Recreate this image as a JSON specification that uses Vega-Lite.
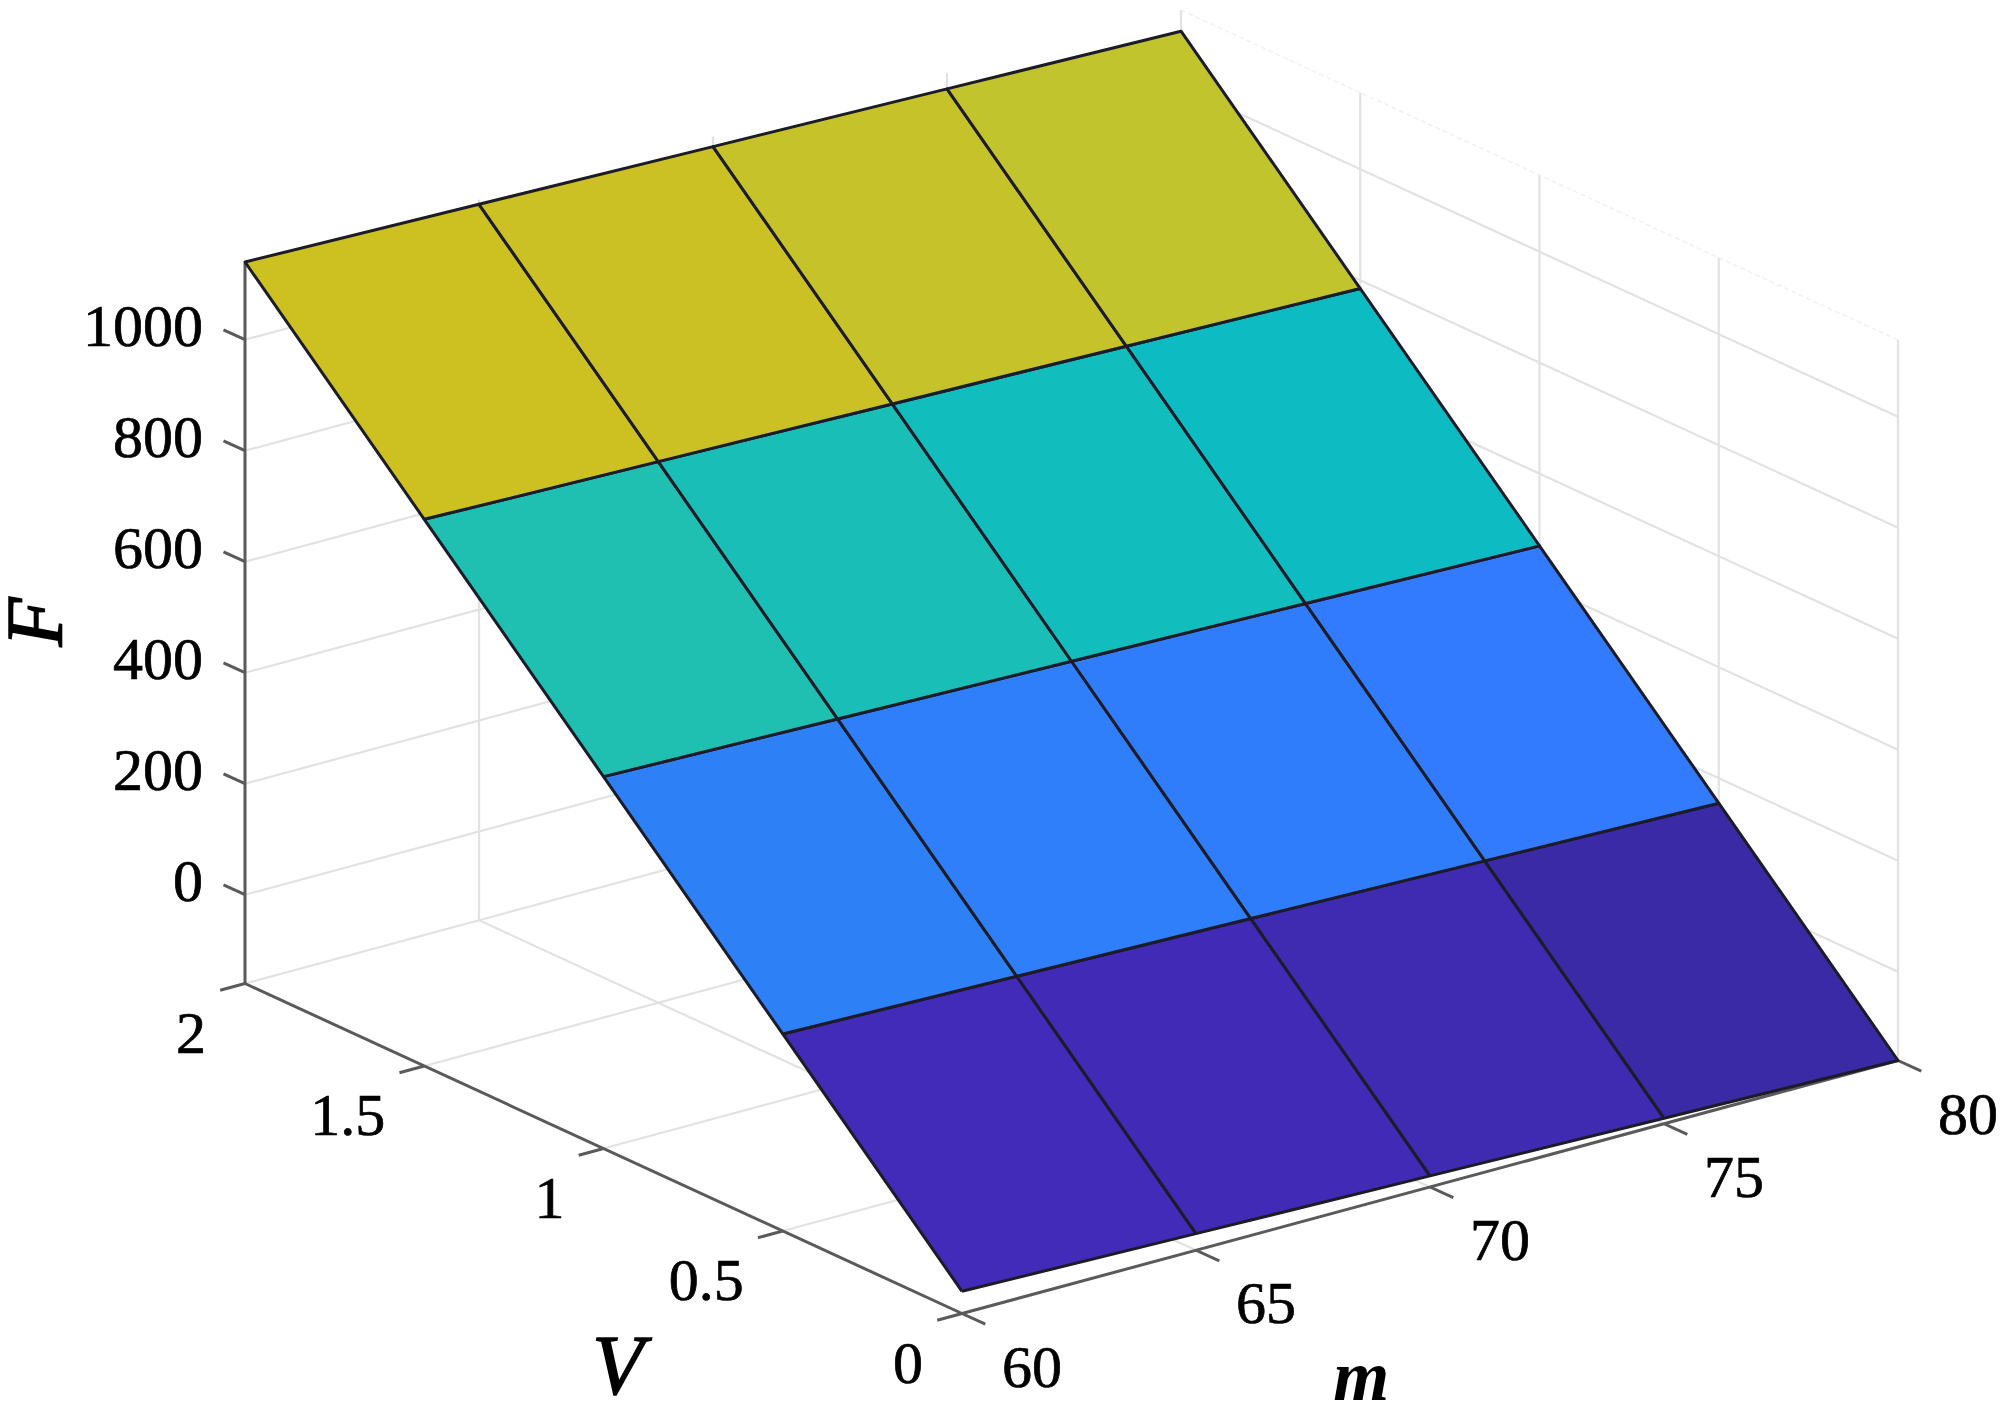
{"$schema":"https://vega.github.io/schema/vega-lite/v6.json","width":2000,"height":1419,"padding":0,"autosize":"none","background":"white","config":{"view":{"stroke":null}},
"datasets":{
"grid":[
{"id":"bw0","m":[60,80],"V":[2,2],"F":[0,0]},{"id":"bw200","m":[60,80],"V":[2,2],"F":[200,200]},{"id":"bw400","m":[60,80],"V":[2,2],"F":[400,400]},{"id":"bw600","m":[60,80],"V":[2,2],"F":[600,600]},{"id":"bw800","m":[60,80],"V":[2,2],"F":[800,800]},{"id":"bw1000","m":[60,80],"V":[2,2],"F":[1000,1000]},
{"id":"rw0","m":[80,80],"V":[2,0],"F":[0,0]},{"id":"rw200","m":[80,80],"V":[2,0],"F":[200,200]},{"id":"rw400","m":[80,80],"V":[2,0],"F":[400,400]},{"id":"rw600","m":[80,80],"V":[2,0],"F":[600,600]},{"id":"rw800","m":[80,80],"V":[2,0],"F":[800,800]},{"id":"rw1000","m":[80,80],"V":[2,0],"F":[1000,1000]},
{"id":"bv65","m":[65,65],"V":[2,2],"F":[-160,1138]},{"id":"bv70","m":[70,70],"V":[2,2],"F":[-160,1138]},{"id":"bv75","m":[75,75],"V":[2,2],"F":[-160,1138]},{"id":"bv80","m":[80,80],"V":[2,2],"F":[-160,1138]},
{"id":"rv15","m":[80,80],"V":[1.5,1.5],"F":[-160,1138]},{"id":"rv10","m":[80,80],"V":[1,1],"F":[-160,1138]},{"id":"rv05","m":[80,80],"V":[0.5,0.5],"F":[-160,1138]},{"id":"rv00","m":[80,80],"V":[0,0],"F":[-160,1138]},
{"id":"fm65","m":[65,65],"V":[2,0],"F":[-160,-160]},{"id":"fm70","m":[70,70],"V":[2,0],"F":[-160,-160]},{"id":"fm75","m":[75,75],"V":[2,0],"F":[-160,-160]},{"id":"fm80","m":[80,80],"V":[2,0],"F":[-160,-160]},
{"id":"fv20","m":[60,80],"V":[2,2],"F":[-160,-160]},{"id":"fv15","m":[60,80],"V":[1.5,1.5],"F":[-160,-160]},{"id":"fv10","m":[60,80],"V":[1,1],"F":[-160,-160]},{"id":"fv05","m":[60,80],"V":[0.5,0.5],"F":[-160,-160]}
],
"faint":[{"id":"top","m":[80,80],"V":[2,0],"F":[1138,1138]}],
"axes":[
{"id":"Faxis","m":[60,60],"V":[2,2],"F":[-160,1138]},{"id":"Vaxis","m":[60,60],"V":[2,0],"F":[-160,-160]},{"id":"maxis","m":[60,80],"V":[0,0],"F":[-160,-160]},
{"id":"tF0","m":[60,60],"V":[2,2.06],"F":[0,0]},{"id":"tF200","m":[60,60],"V":[2,2.06],"F":[200,200]},{"id":"tF400","m":[60,60],"V":[2,2.06],"F":[400,400]},{"id":"tF600","m":[60,60],"V":[2,2.06],"F":[600,600]},{"id":"tF800","m":[60,60],"V":[2,2.06],"F":[800,800]},{"id":"tF1000","m":[60,60],"V":[2,2.06],"F":[1000,1000]},
{"id":"tV2","m":[60,59.47],"V":[2,2],"F":[-160,-160]},{"id":"tV15","m":[60,59.47],"V":[1.5,1.5],"F":[-160,-160]},{"id":"tV1","m":[60,59.47],"V":[1,1],"F":[-160,-160]},{"id":"tV05","m":[60,59.47],"V":[0.5,0.5],"F":[-160,-160]},{"id":"tV0","m":[60,59.47],"V":[0,0],"F":[-160,-160]},
{"id":"tm60","m":[60,60],"V":[0,-0.065],"F":[-160,-160]},{"id":"tm65","m":[65,65],"V":[0,-0.065],"F":[-160,-160]},{"id":"tm70","m":[70,70],"V":[0,-0.065],"F":[-160,-160]},{"id":"tm75","m":[75,75],"V":[0,-0.065],"F":[-160,-160]},{"id":"tm80","m":[80,80],"V":[0,-0.065],"F":[-160,-160]}
],
"cells":[
{"cell":"a1","i":[0,1,2,3,4],"m":[60,65,65,60,60],"V":[0,0,0.5,0.5,0],"F":[-120,-130,185,195,-120]},
{"cell":"a2","i":[0,1,2,3,4],"m":[65,70,70,65,65],"V":[0,0,0.5,0.5,0],"F":[-130,-140,175,185,-130]},
{"cell":"a3","i":[0,1,2,3,4],"m":[70,75,75,70,70],"V":[0,0,0.5,0.5,0],"F":[-140,-150,165,175,-140]},
{"cell":"a4","i":[0,1,2,3,4],"m":[75,80,80,75,75],"V":[0,0,0.5,0.5,0],"F":[-150,-160,155,165,-150]},
{"cell":"b1","i":[0,1,2,3,4],"m":[60,65,65,60,60],"V":[0.5,0.5,1,1,0.5],"F":[195,185,500,510,195]},
{"cell":"b2","i":[0,1,2,3,4],"m":[65,70,70,65,65],"V":[0.5,0.5,1,1,0.5],"F":[185,175,490,500,185]},
{"cell":"b3","i":[0,1,2,3,4],"m":[70,75,75,70,70],"V":[0.5,0.5,1,1,0.5],"F":[175,165,480,490,175]},
{"cell":"b4","i":[0,1,2,3,4],"m":[75,80,80,75,75],"V":[0.5,0.5,1,1,0.5],"F":[165,155,470,480,165]},
{"cell":"c1","i":[0,1,2,3,4],"m":[60,65,65,60,60],"V":[1,1,1.5,1.5,1],"F":[510,500,815,825,510]},
{"cell":"c2","i":[0,1,2,3,4],"m":[65,70,70,65,65],"V":[1,1,1.5,1.5,1],"F":[500,490,805,815,500]},
{"cell":"c3","i":[0,1,2,3,4],"m":[70,75,75,70,70],"V":[1,1,1.5,1.5,1],"F":[490,480,795,805,490]},
{"cell":"c4","i":[0,1,2,3,4],"m":[75,80,80,75,75],"V":[1,1,1.5,1.5,1],"F":[480,470,785,795,480]},
{"cell":"d1","i":[0,1,2,3,4],"m":[60,65,65,60,60],"V":[1.5,1.5,2,2,1.5],"F":[825,815,1130,1140,825]},
{"cell":"d2","i":[0,1,2,3,4],"m":[65,70,70,65,65],"V":[1.5,1.5,2,2,1.5],"F":[815,805,1120,1130,815]},
{"cell":"d3","i":[0,1,2,3,4],"m":[70,75,75,70,70],"V":[1.5,1.5,2,2,1.5],"F":[805,795,1110,1120,805]},
{"cell":"d4","i":[0,1,2,3,4],"m":[75,80,80,75,75],"V":[1.5,1.5,2,2,1.5],"F":[795,785,1100,1110,795]}
]},
"encoding":{"x":{"field":"px","type":"quantitative","scale":{"domain":[0,2000],"nice":false,"zero":false},"axis":null},"y":{"field":"py","type":"quantitative","scale":{"domain":[1419,0],"nice":false,"zero":false},"axis":null}},
"layer":[
{"data":{"name":"grid"},"transform":[{"flatten":["m","V","F"]},{"calculate":"245+46.8*(datum.m-60)+358.5*(2-datum.V)","as":"px"},{"calculate":"983.5-12.65*(datum.m-60)+165*(2-datum.V)-0.555*(datum.F+160)","as":"py"}],"mark":{"type":"line","stroke":"#e2e2e2","strokeWidth":2.2},"encoding":{"detail":{"field":"id"}}},
{"data":{"name":"faint"},"transform":[{"flatten":["m","V","F"]},{"calculate":"245+46.8*(datum.m-60)+358.5*(2-datum.V)","as":"px"},{"calculate":"983.5-12.65*(datum.m-60)+165*(2-datum.V)-0.555*(datum.F+160)","as":"py"}],"mark":{"type":"line","stroke":"#f1f1f1","strokeWidth":1.5,"strokeDash":[5,3]},"encoding":{"detail":{"field":"id"}}},
{"data":{"name":"axes"},"transform":[{"flatten":["m","V","F"]},{"calculate":"245+46.8*(datum.m-60)+358.5*(2-datum.V)","as":"px"},{"calculate":"983.5-12.65*(datum.m-60)+165*(2-datum.V)-0.555*(datum.F+160)","as":"py"}],"mark":{"type":"line","stroke":"#5a5a5a","strokeWidth":3},"encoding":{"detail":{"field":"id"}}},
{"data":{"name":"cells"},"transform":[{"flatten":["i","m","V","F"]},{"calculate":"245+46.8*(datum.m-60)+358.5*(2-datum.V)","as":"px"},{"calculate":"983.5-12.65*(datum.m-60)+165*(2-datum.V)-0.555*(datum.F+160)","as":"py"}],"mark":{"type":"line","stroke":"#1c1c28","strokeWidth":3,"strokeJoin":"round"},"encoding":{"fill":{"field":"cell","type":"nominal","legend":null,"scale":{"domain":["a1","a2","a3","a4","b1","b2","b3","b4","c1","c2","c3","c4","d1","d2","d3","d4"],"range":["#412BB8","#402AB6","#3F2AB2","#3B2AA5","#2E80F7","#2F7FFA","#307DFC","#337BFE","#1FC0B2","#19BFB7","#12BDBD","#0DBCC3","#CDC122","#CBC124","#C6C22A","#C1C42C"]}},"order":{"field":"i","type":"quantitative"}}},
{"data":{"values":[{"label":"0","m":60,"V":2,"F":0},{"label":"200","m":60,"V":2,"F":200},{"label":"400","m":60,"V":2,"F":400},{"label":"600","m":60,"V":2,"F":600},{"label":"800","m":60,"V":2,"F":800},{"label":"1000","m":60,"V":2,"F":1000}]},"transform":[{"calculate":"245+46.8*(datum.m-60)+358.5*(2-datum.V)","as":"px"},{"calculate":"983.5-12.65*(datum.m-60)+165*(2-datum.V)-0.555*(datum.F+160)","as":"py"}],"mark":{"type":"text","font":"Liberation Serif","fontSize":60,"align":"right","baseline":"middle","dx":-42,"dy":-12,"fill":"#000","stroke":"#000","strokeWidth":0.7},"encoding":{"text":{"field":"label"}}},
{"data":{"values":[{"label":"2","m":60,"V":2,"F":-160},{"label":"1.5","m":60,"V":1.5,"F":-160},{"label":"1","m":60,"V":1,"F":-160},{"label":"0.5","m":60,"V":0.5,"F":-160},{"label":"0","m":60,"V":0,"F":-160}]},"transform":[{"calculate":"245+46.8*(datum.m-60)+358.5*(2-datum.V)","as":"px"},{"calculate":"983.5-12.65*(datum.m-60)+165*(2-datum.V)-0.555*(datum.F+160)","as":"py"}],"mark":{"type":"text","font":"Liberation Serif","fontSize":60,"align":"right","baseline":"middle","dx":-39,"dy":51,"fill":"#000","stroke":"#000","strokeWidth":0.7},"encoding":{"text":{"field":"label"}}},
{"data":{"values":[{"label":"60","m":60,"V":0,"F":-160},{"label":"65","m":65,"V":0,"F":-160},{"label":"70","m":70,"V":0,"F":-160},{"label":"75","m":75,"V":0,"F":-160},{"label":"80","m":80,"V":0,"F":-160}]},"transform":[{"calculate":"245+46.8*(datum.m-60)+358.5*(2-datum.V)","as":"px"},{"calculate":"983.5-12.65*(datum.m-60)+165*(2-datum.V)-0.555*(datum.F+160)","as":"py"}],"mark":{"type":"text","font":"Liberation Serif","fontSize":60,"align":"center","baseline":"middle","dx":70,"dy":55,"fill":"#000","stroke":"#000","strokeWidth":0.7},"encoding":{"text":{"field":"label"}}},
{"data":{"values":[{"label":"V","m":60,"V":0.96,"F":-545}]},"transform":[{"calculate":"245+46.8*(datum.m-60)+358.5*(2-datum.V)","as":"px"},{"calculate":"983.5-12.65*(datum.m-60)+165*(2-datum.V)-0.555*(datum.F+160)","as":"py"}],"mark":{"type":"text","font":"Liberation Serif","fontSize":84,"fontStyle":"italic","align":"center","baseline":"middle","fill":"#000","stroke":"#000","strokeWidth":1.5},"encoding":{"text":{"field":"label"}}},
{"data":{"values":[{"label":"m","m":68.53,"V":0,"F":-470}]},"transform":[{"calculate":"245+46.8*(datum.m-60)+358.5*(2-datum.V)","as":"px"},{"calculate":"983.5-12.65*(datum.m-60)+165*(2-datum.V)-0.555*(datum.F+160)","as":"py"}],"mark":{"type":"text","font":"Liberation Serif","fontSize":72,"fontStyle":"italic","fontWeight":"bold","align":"center","baseline":"middle","fill":"#000"},"encoding":{"text":{"field":"label"}}},
{"data":{"values":[{"label":"F","m":55.58,"V":2,"F":592}]},"transform":[{"calculate":"245+46.8*(datum.m-60)+358.5*(2-datum.V)","as":"px"},{"calculate":"983.5-12.65*(datum.m-60)+165*(2-datum.V)-0.555*(datum.F+160)","as":"py"}],"mark":{"type":"text","font":"Liberation Serif","fontSize":80,"fontStyle":"italic","align":"center","baseline":"middle","angle":270,"fill":"#000","stroke":"#000","strokeWidth":1.5},"encoding":{"text":{"field":"label"}}}
]}
